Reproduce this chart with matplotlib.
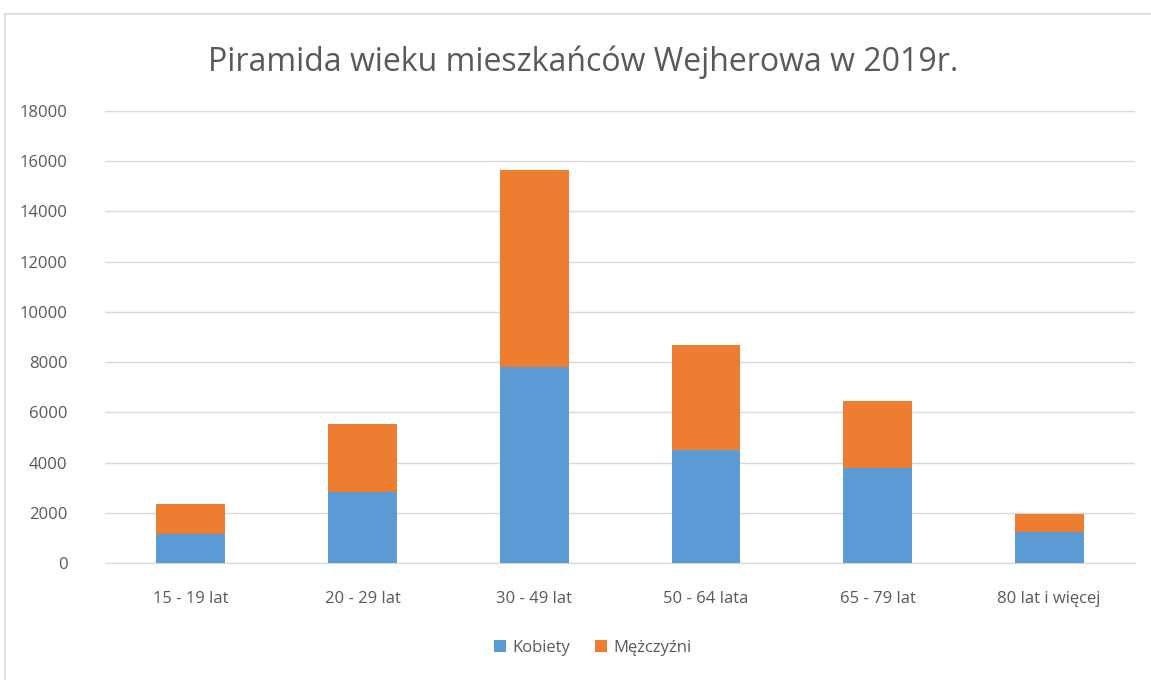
import matplotlib.pyplot as plt
from matplotlib.lines import Line2D

plt.rcParams['font.family'] = ['Open Sans', 'DejaVu Sans']

categories = ["15 - 19 lat", "20 - 29 lat", "30 - 49 lat", "50 - 64 lata", "65 - 79 lat", "80 lat i więcej"]
kobiety = [1160, 2810, 7800, 4500, 3800, 1240]
mezczyzni = [1200, 2720, 7840, 4190, 2640, 720]
yticks = list(range(0, 18001, 2000))

blue = "#5b9bd5"
orange = "#ed7d31"
grey = "#595959"

fig = plt.figure(figsize=(11.51, 6.8), dpi=100)
ax = fig.add_axes([105 / 1151, 1 - 563 / 680, 1030 / 1151, 452 / 680])

x = range(len(categories))
ax.bar(x, kobiety, width=0.4, color=blue, label="Kobiety", zorder=3)
ax.bar(x, mezczyzni, width=0.4, bottom=kobiety, color=orange, label="Mężczyźni", zorder=3)

ax.set_ylim(0, 18000)
ax.set_xlim(-0.5, len(categories) - 0.5)
ax.set_yticks(yticks)
ax.set_xticks(list(x))
ax.set_xticklabels(categories)
ax.yaxis.grid(True, color="#d9d9d9", linewidth=1, zorder=0)
ax.tick_params(length=0, labelsize=12, colors=grey)
ax.tick_params(axis="x", pad=20)
ax.tick_params(axis="y", pad=27)
for s in ["top", "right", "left"]:
    ax.spines[s].set_visible(False)
ax.spines["bottom"].set_color("#d9d9d9")

fig.text(0.507, 1 - 62 / 680, "Piramida wieku mieszkańców Wejherowa w 2019r.",
         ha="center", va="center", fontsize=23, color=grey)

fig.legend(loc="center", bbox_to_anchor=(0.515, 1 - 648 / 680), ncol=2, frameon=False,
           fontsize=12, labelcolor=grey, handlelength=0.7, handleheight=0.7,
           handletextpad=0.4, columnspacing=1.5)

# chart border
fig.add_artist(Line2D([5 / 1151, 1], [1 - 14 / 680] * 2, color="#d9d9d9", lw=1.2))
fig.add_artist(Line2D([5 / 1151] * 2, [0, 1 - 14 / 680], color="#d9d9d9", lw=1.2))

fig.savefig("out.png", dpi=100, facecolor="white")
